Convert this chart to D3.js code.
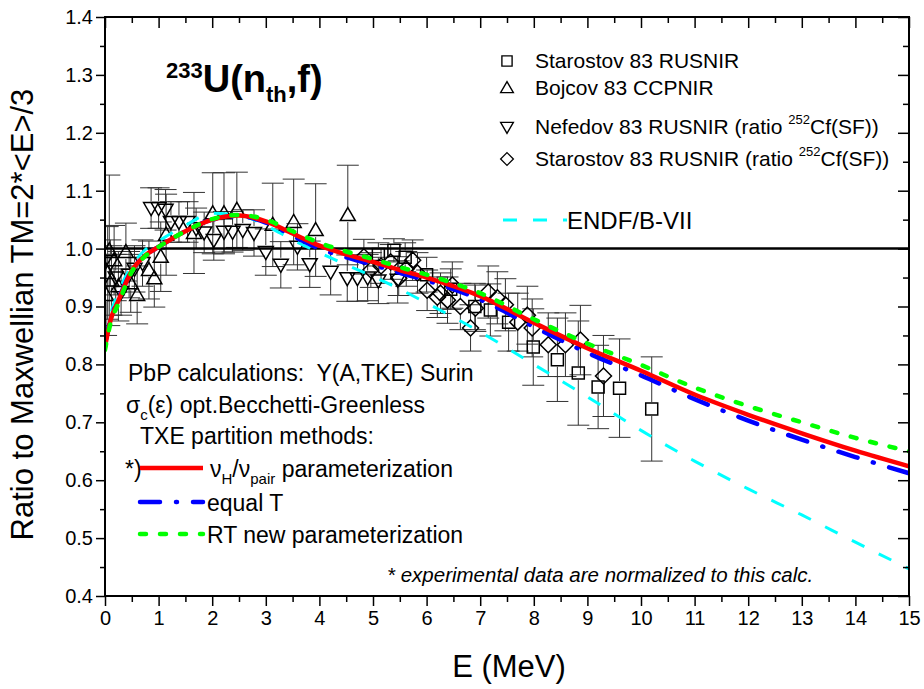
<!DOCTYPE html>
<meta charset="utf-8">
<title>233U(n_th,f) - ratio to Maxwellian</title>
<style>
body {
  margin: 0px;
  background: #fff;
}
svg text {
  font-family: Arial, "Liberation Sans", sans-serif;
  fill: #000;
}
</style>
<body>
<svg id="chart" width="924" height="689"></svg>
</body>
<script src="https://d3js.org/d3.v7.min.js"></script>
<script>

// calculated curves (ratio to Maxwellian), common energy grid
var curveE      = [0, 0.1, 0.25, 0.5, 0.75, 1, 1.5, 2, 2.5, 3, 3.5, 4, 4.5, 5, 5.5, 6, 7, 8, 9, 10, 11, 12, 13, 14, 15];
var calcNuH     = [0.83, 0.875, 0.91, 0.962, 0.988, 1.003, 1.03, 1.05, 1.057, 1.047, 1.026, 1.005, 0.99, 0.977, 0.963, 0.95, 0.918, 0.872, 0.828, 0.789, 0.748, 0.713, 0.681, 0.651, 0.624];
var calcEqualT  = [0.835, 0.877, 0.912, 0.962, 0.988, 1.003, 1.03, 1.05, 1.056, 1.045, 1.022, 1.0, 0.985, 0.972, 0.958, 0.945, 0.912, 0.865, 0.82, 0.781, 0.74, 0.703, 0.67, 0.64, 0.612];
var calcRT      = [0.825, 0.87, 0.905, 0.96, 0.987, 1.003, 1.03, 1.051, 1.058, 1.05, 1.03, 1.01, 0.995, 0.982, 0.968, 0.955, 0.923, 0.878, 0.836, 0.799, 0.76, 0.728, 0.7, 0.673, 0.65];
var endfB7      = [0.84, 0.885, 0.925, 0.97, 0.998, 1.013, 1.04, 1.061, 1.058, 1.04, 1.015, 0.993, 0.972, 0.952, 0.93, 0.906, 0.856, 0.8, 0.744, 0.686, 0.633, 0.585, 0.54, 0.493, 0.447];

// experimental points: [E (MeV), ratio, error]
var starostov = [
  [5.1, 0.99, 0.02], [5.39, 0.997, 0.02], [5.6, 0.985, 0.025], [6.0, 0.955, 0.03],
  [6.45, 0.93, 0.035], [6.9, 0.9, 0.04], [7.19, 0.894, 0.045], [7.53, 0.873, 0.05],
  [7.99, 0.83, 0.066], [8.44, 0.808, 0.072], [8.83, 0.785, 0.09], [9.2, 0.761, 0.072],
  [9.6, 0.759, 0.085], [10.2, 0.723, 0.09]
];
var bojcov = [
  [0.02, 0.92, 0.07], [0.05, 0.958, 0.08], [0.08, 0.997, 0.13], [0.12, 0.945, 0.06],
  [0.17, 0.98, 0.06], [0.25, 0.935, 0.06], [0.39, 0.994, 0.05], [0.48, 0.94, 0.05],
  [0.6, 0.92, 0.05], [0.82, 0.963, 0.05], [0.92, 0.949, 0.05], [1.04, 0.986, 0.06],
  [1.14, 1.024, 0.07], [1.66, 1.027, 0.07], [2.01, 1.061, 0.07], [2.22, 1.061, 0.07],
  [2.46, 1.067, 0.065], [3.13, 1.041, 0.072], [3.52, 1.046, 0.074], [3.93, 1.032, 0.08],
  [4.53, 1.058, 0.086]
];
var nefedov = [
  [0.1, 0.975, 0.04], [0.2, 0.95, 0.04], [0.3, 0.925, 0.04], [0.45, 0.955, 0.04],
  [0.55, 0.965, 0.04], [0.7, 0.975, 0.04], [0.86, 1.07, 0.035], [1.0, 1.07, 0.035],
  [1.13, 1.067, 0.035], [1.23, 1.046, 0.035], [1.38, 1.046, 0.035], [1.54, 1.046, 0.035],
  [1.7, 1.035, 0.035], [1.85, 1.028, 0.035], [2.03, 1.015, 0.035], [2.22, 1.029, 0.035],
  [2.38, 1.029, 0.035], [2.57, 1.032, 0.035], [2.78, 1.027, 0.04], [3.0, 0.994, 0.04],
  [3.28, 0.972, 0.04], [3.59, 1.003, 0.04], [3.82, 0.973, 0.04], [4.21, 0.96, 0.04],
  [4.52, 0.949, 0.04], [4.71, 0.949, 0.04], [4.9, 0.95, 0.04], [5.1, 0.945, 0.04],
  [5.46, 0.946, 0.04]
];
var starostovCf = [
  [4.83, 0.986, 0.03], [4.96, 0.963, 0.03], [5.15, 0.97, 0.03], [5.33, 0.977, 0.03],
  [5.48, 0.949, 0.03], [5.62, 0.965, 0.03], [5.74, 0.98, 0.035], [5.83, 0.958, 0.035],
  [6.01, 0.928, 0.035], [6.2, 0.916, 0.035], [6.26, 0.923, 0.035], [6.39, 0.911, 0.04],
  [6.48, 0.937, 0.04], [6.63, 0.9, 0.04], [6.82, 0.863, 0.04], [6.91, 0.897, 0.04],
  [7.15, 0.925, 0.045], [7.32, 0.915, 0.045], [7.47, 0.903, 0.045], [7.7, 0.873, 0.05],
  [7.88, 0.885, 0.05], [7.97, 0.863, 0.05], [8.27, 0.834, 0.055], [8.59, 0.834, 0.055],
  [8.87, 0.842, 0.06], [9.3, 0.78, 0.07]
];

var xTicks = d3.range(0, 16, 1);
var yTicks = [0.4, 0.5, 0.6, 0.7, 0.8, 0.9, 1.0, 1.1, 1.2, 1.3, 1.4];

var svg = d3.select("#chart");
var x = d3.scaleLinear().domain([0, 15]).range([105, 909]);
var y = d3.scaleLinear().domain([0.4, 1.4]).range([596, 17]);

svg.append("clipPath").attr("id", "plotclip")
  .append("rect").attr("x", x(0)).attr("y", y(1.4))
  .attr("width", x(15) - x(0)).attr("height", y(0.4) - y(1.4));

// marker shapes
function markerPath(kind, cx, cy) {
  var s = 6.5;
  if (kind == "square") return "M" + (cx - 6) + "," + (cy - 6) + "h12v12h-12z";
  if (kind == "up") return "M" + cx + "," + (cy - s - 1) + "L" + (cx + s + 1) + "," + (cy + s - 1) + "L" + (cx - s - 1) + "," + (cy + s - 1) + "Z";
  if (kind == "down") return "M" + cx + "," + (cy + s + 1) + "L" + (cx + s + 1) + "," + (cy - s + 1) + "L" + (cx - s - 1) + "," + (cy - s + 1) + "Z";
  return "M" + cx + "," + (cy - 8) + "L" + (cx + 8) + "," + cy + "L" + cx + "," + (cy + 8) + "L" + (cx - 8) + "," + cy + "Z";
}

var sets = [
  {data: starostov, kind: "square"},
  {data: bojcov, kind: "up"},
  {data: nefedov, kind: "down"},
  {data: starostovCf, kind: "diamond"}
];

var plot = svg.append("g").attr("clip-path", "url(#plotclip)");

// error bars (they stop at the symbol)
var bars = plot.append("g").attr("stroke", "#333").attr("stroke-width", 1).attr("fill", "none");
sets.forEach(function(s) {
  s.data.forEach(function(d) {
    var cx = x(d[0]), cy = y(d[1]), top = y(d[1] + d[2]), bot = y(d[1] - d[2]), r = 7;
    var p = "";
    if (top < cy - r) p += "M" + cx + "," + top + "V" + (cy - r);
    if (bot > cy + r) p += "M" + cx + "," + (cy + r) + "V" + bot;
    p += "M" + (cx - 11) + "," + top + "h22M" + (cx - 11) + "," + bot + "h22";
    bars.append("path").attr("d", p);
  });
});

// reference line at 1
plot.append("line")
  .attr("x1", x(0)).attr("x2", x(15)).attr("y1", y(1)).attr("y2", y(1))
  .attr("stroke", "#000").attr("stroke-width", 2.5);

var marks = plot.append("g").attr("stroke", "#000").attr("stroke-width", 1.5).attr("fill", "none");
sets.forEach(function(s) {
  marks.selectAll(null).data(s.data).enter().append("path")
    .attr("d", function(d) { return markerPath(s.kind, x(d[0]), y(d[1])); });
});

// calculated curves
var line = d3.line()
  .x(function(d, i) { return x(curveE[i]); })
  .y(function(d) { return y(d); })
  .curve(d3.curveMonotoneX);

var curves = [
  {v: endfB7, color: "#00FFFF", w: 3, dash: "14,16", cap: "butt"},
  {v: calcEqualT, color: "#0000FF", w: 4.5, dash: "20,16,1,16", cap: "round"},
  {v: calcNuH, color: "#FF0000", w: 4.5, dash: null, cap: "butt"},
  {v: calcRT, color: "#00FF00", w: 4.5, dash: "6,14", cap: "round"}
];
curves.forEach(function(c) {
  plot.append("path").datum(c.v)
    .attr("d", line)
    .attr("fill", "none")
    .attr("stroke", c.color)
    .attr("stroke-width", c.w)
    .attr("stroke-linecap", c.cap)
    .attr("stroke-dasharray", c.dash);
});

// axes
function styleAxis(g) {
  g.select(".domain").remove();
  g.selectAll(".tick line").attr("stroke", "#000").attr("stroke-width", 1.5);
  g.selectAll(".tick text").style("font-size", "20px").attr("fill", "#000");
}
var fmt1 = d3.format(".1f");
svg.append("g").attr("transform", "translate(0," + y(0.4) + ")")
  .call(d3.axisBottom(x).tickValues(xTicks).tickSize(10).tickPadding(5).tickFormat(d3.format("d"))).call(styleAxis);
svg.append("g").attr("transform", "translate(0," + y(0.4) + ")")
  .call(d3.axisBottom(x).tickValues(d3.range(0.5, 15, 1)).tickSize(6).tickFormat("")).call(styleAxis);
svg.append("g").attr("transform", "translate(0," + y(1.4) + ")")
  .call(d3.axisTop(x).tickValues(xTicks).tickSize(-11).tickFormat("")).call(styleAxis);
svg.append("g").attr("transform", "translate(0," + y(1.4) + ")")
  .call(d3.axisTop(x).tickValues(d3.range(0.5, 15, 1)).tickSize(-6).tickFormat("")).call(styleAxis);
svg.append("g").attr("transform", "translate(" + x(0) + ",0)")
  .call(d3.axisLeft(y).tickValues(yTicks).tickSize(9).tickPadding(3).tickFormat(fmt1)).call(styleAxis);
svg.append("g").attr("transform", "translate(" + x(0) + ",0)")
  .call(d3.axisLeft(y).tickValues(d3.range(0.45, 1.4, 0.1)).tickSize(5).tickFormat("")).call(styleAxis);
svg.append("g").attr("transform", "translate(" + x(15) + ",0)")
  .call(d3.axisRight(y).tickValues(yTicks).tickSize(-11).tickFormat("")).call(styleAxis);
svg.append("g").attr("transform", "translate(" + x(15) + ",0)")
  .call(d3.axisRight(y).tickValues(d3.range(0.45, 1.4, 0.1)).tickSize(-6).tickFormat("")).call(styleAxis);

svg.append("rect")
  .attr("x", x(0)).attr("y", y(1.4)).attr("width", x(15) - x(0)).attr("height", y(0.4) - y(1.4))
  .attr("fill", "none").attr("stroke", "#000").attr("stroke-width", 2);

// axis titles
svg.append("text").attr("x", 509).attr("y", 677)
  .attr("text-anchor", "middle").style("font-size", "31px").text("E (MeV)");
svg.append("text").attr("transform", "translate(33," + ((y(0.4) + y(1.4)) / 2 + 8) + ") rotate(-90)")
  .attr("text-anchor", "middle").style("font-size", "31px").text("Ratio to Maxwellian TM=2*<E>/3");

// reaction label
var t = svg.append("text").attr("x", 166).attr("y", 92).style("font-weight", "bold").style("font-size", "38px");
t.append("tspan").attr("dy", -14).style("font-size", "22px").text("233");
t.append("tspan").attr("dy", 14).text("U(n");
t.append("tspan").attr("dy", 10).style("font-size", "22px").text("th");
t.append("tspan").attr("dy", -10).text(",f)");

// legend for data
var legendRows = [
  {kind: "square", y: 61, label: "Starostov 83 RUSNIR", sup: null},
  {kind: "up", y: 88, label: "Bojcov 83 CCPNIR", sup: null},
  {kind: "down", y: 127, label: "Nefedov 83 RUSNIR (ratio ", sup: "252"},
  {kind: "diamond", y: 159, label: "Starostov 83 RUSNIR (ratio ", sup: "252"}
];
var leg = svg.append("g");
legendRows.forEach(function(r) {
  var sz = r.kind == "diamond" ? 0.8 : 0.85;
  leg.append("path").attr("d", markerPath(r.kind, 0, 0))
    .attr("transform", "translate(507," + r.y + ") scale(" + sz + ")")
    .attr("fill", "none").attr("stroke", "#000").attr("stroke-width", 1.6);
  var tx = leg.append("text").attr("x", 535).attr("y", r.y + 7).style("font-size", "21px").text(r.label);
  if (r.sup) {
    tx.append("tspan").attr("dy", -10).style("font-size", "13px").text(r.sup);
    tx.append("tspan").attr("dy", 10).text("Cf(SF))");
  }
});
leg.append("line").attr("x1", 503).attr("x2", 567).attr("y1", 220).attr("y2", 220)
  .attr("stroke", "#00FFFF").attr("stroke-width", 3).attr("stroke-dasharray", "14,16");
leg.append("text").attr("x", 567).attr("y", 229).style("font-size", "24px").text("ENDF/B-VII");

// calculation notes and line legend
var notes = svg.append("g").style("font-size", "23px");
notes.append("text").attr("x", 128).attr("y", 381).attr("xml:space", "preserve").text("PbP calculations:  Y(A,TKE) Surin");
var s2 = notes.append("text").attr("x", 126).attr("y", 413);
s2.append("tspan").text("σ");
s2.append("tspan").attr("dy", 7).style("font-size", "15px").text("c");
s2.append("tspan").attr("dy", -7).text("(ε) opt.Becchetti-Greenless");
notes.append("text").attr("x", 140).attr("y", 444).text("TXE partition methods:");
notes.append("text").attr("x", 125).attr("y", 477).text("*)");
var s4 = notes.append("text").attr("x", 210).attr("y", 477);
s4.append("tspan").text("ν");
s4.append("tspan").attr("dy", 7).style("font-size", "15px").text("H");
s4.append("tspan").attr("dy", -7).text("/ν");
s4.append("tspan").attr("dy", 7).style("font-size", "15px").text("pair");
s4.append("tspan").attr("dy", -7).text(" parameterization");
notes.append("text").attr("x", 207).attr("y", 511).text("equal T");
notes.append("text").attr("x", 207).attr("y", 543).text("RT new parameterization");

var keyLines = [
  {y: 468, color: "#FF0000", dash: null, cap: "butt"},
  {y: 502, color: "#0000FF", dash: "20,16,1,16", cap: "round"},
  {y: 534, color: "#00FF00", dash: "6,14", cap: "round"}
];
keyLines.forEach(function(k) {
  notes.append("line").attr("x1", 140).attr("x2", 203).attr("y1", k.y).attr("y2", k.y)
    .attr("stroke", k.color).attr("stroke-width", 4.5)
    .attr("stroke-linecap", k.cap).attr("stroke-dasharray", k.dash);
});

svg.append("text").attr("x", 387).attr("y", 582)
  .style("font-size", "20.5px").style("font-style", "italic")
  .text("* experimental data are normalized to this calc.");

</script>
